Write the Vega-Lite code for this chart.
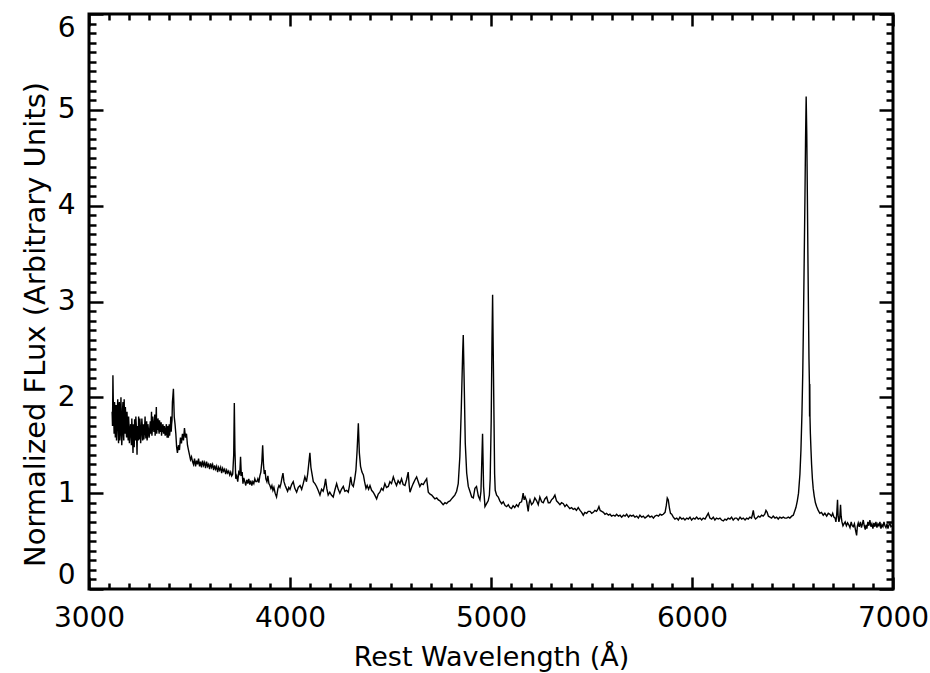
{
  "$schema": "https://vega.github.io/schema/vega-lite/v6.json",
  "width": 804,
  "height": 575,
  "autosize": {"type": "none"},
  "padding": {"left": 89, "top": 14, "right": 37, "bottom": 84},
  "background": "white",
  "config": {
    "view": {"stroke": "black", "strokeWidth": 3},
    "axis": {
      "grid": false, "domain": false, "tickColor": "black", "tickWidth": 2.5,
      "labelColor": "black", "titleColor": "black",
      "labelFont": "DejaVu Sans", "titleFont": "DejaVu Sans",
      "labelFontSize": 28, "titleFontSize": 27, "titleFontWeight": "normal",
      "labelOverlap": false, "labelBound": false
    }
  },
  "data": {"values": [
    {"w":3115,"f":1.85},{"w":3117,"f":1.70},{"w":3119,"f":2.23},{"w":3121,"f":1.95},{"w":3123,"f":1.80},{"w":3125,"f":1.62},{"w":3127,"f":1.95},{"w":3129,"f":1.88},{"w":3131,"f":1.58},{"w":3133,"f":1.75},{"w":3135,"f":1.92},{"w":3137,"f":1.55},{"w":3139,"f":1.72},{"w":3141,"f":1.85},{"w":3143,"f":1.98},{"w":3145,"f":1.68},{"w":3147,"f":1.52},{"w":3149,"f":1.90},{"w":3151,"f":1.95},{"w":3153,"f":1.55},{"w":3155,"f":1.62},{"w":3157,"f":1.82},{"w":3159,"f":2.00},{"w":3161,"f":1.65},{"w":3163,"f":1.50},{"w":3165,"f":1.60},{"w":3167,"f":1.88},{"w":3169,"f":1.95},{"w":3171,"f":1.68},{"w":3173,"f":1.55},{"w":3175,"f":1.98},{"w":3177,"f":1.70},{"w":3179,"f":1.62},{"w":3181,"f":1.90},{"w":3183,"f":1.80},{"w":3185,"f":1.65},{"w":3187,"f":1.58},{"w":3189,"f":1.85},{"w":3191,"f":1.74},{"w":3193,"f":1.62},{"w":3195,"f":1.55},{"w":3197,"f":1.80},{"w":3199,"f":1.70},{"w":3201,"f":1.52},{"w":3203,"f":1.60},{"w":3205,"f":1.66},{"w":3207,"f":1.72},{"w":3209,"f":1.62},{"w":3211,"f":1.50},{"w":3213,"f":1.78},{"w":3215,"f":1.66},{"w":3217,"f":1.55},{"w":3219,"f":1.42},{"w":3221,"f":1.72},{"w":3223,"f":1.60},{"w":3225,"f":1.48},{"w":3227,"f":1.77},{"w":3229,"f":1.62},{"w":3231,"f":1.55},{"w":3233,"f":1.80},{"w":3235,"f":1.72},{"w":3237,"f":1.58},{"w":3239,"f":1.40},{"w":3241,"f":1.70},{"w":3243,"f":1.62},{"w":3245,"f":1.55},{"w":3247,"f":1.80},{"w":3249,"f":1.68},{"w":3251,"f":1.56},{"w":3253,"f":1.78},{"w":3255,"f":1.70},{"w":3257,"f":1.52},{"w":3259,"f":1.60},{"w":3261,"f":1.66},{"w":3263,"f":1.78},{"w":3265,"f":1.70},{"w":3267,"f":1.55},{"w":3269,"f":1.62},{"w":3271,"f":1.72},{"w":3273,"f":1.56},{"w":3275,"f":1.62},{"w":3277,"f":1.70},{"w":3279,"f":1.80},{"w":3281,"f":1.64},{"w":3283,"f":1.57},{"w":3285,"f":1.68},{"w":3287,"f":1.75},{"w":3289,"f":1.55},{"w":3291,"f":1.60},{"w":3293,"f":1.72},{"w":3295,"f":1.68},{"w":3297,"f":1.64},{"w":3299,"f":1.58},{"w":3301,"f":1.62},{"w":3303,"f":1.70},{"w":3305,"f":1.75},{"w":3307,"f":1.62},{"w":3309,"f":1.68},{"w":3311,"f":1.85},{"w":3313,"f":1.60},{"w":3315,"f":1.66},{"w":3317,"f":1.80},{"w":3319,"f":1.75},{"w":3321,"f":1.70},{"w":3323,"f":1.64},{"w":3325,"f":1.68},{"w":3327,"f":1.82},{"w":3329,"f":1.60},{"w":3331,"f":1.68},{"w":3333,"f":1.76},{"w":3335,"f":1.90},{"w":3337,"f":1.62},{"w":3339,"f":1.70},{"w":3341,"f":1.66},{"w":3343,"f":1.78},{"w":3345,"f":1.74},{"w":3347,"f":1.66},{"w":3349,"f":1.62},{"w":3351,"f":1.76},{"w":3353,"f":1.70},{"w":3355,"f":1.64},{"w":3357,"f":1.68},{"w":3359,"f":1.74},{"w":3361,"f":1.60},{"w":3363,"f":1.67},{"w":3365,"f":1.64},{"w":3367,"f":1.72},{"w":3369,"f":1.70},{"w":3371,"f":1.62},{"w":3373,"f":1.66},{"w":3375,"f":1.70},{"w":3377,"f":1.64},{"w":3379,"f":1.60},{"w":3381,"f":1.62},{"w":3383,"f":1.68},{"w":3385,"f":1.72},{"w":3387,"f":1.62},{"w":3389,"f":1.58},{"w":3391,"f":1.66},{"w":3393,"f":1.70},{"w":3395,"f":1.58},{"w":3397,"f":1.64},{"w":3399,"f":1.72},{"w":3401,"f":1.60},{"w":3403,"f":1.65},{"w":3405,"f":1.70},{"w":3407,"f":1.80},{"w":3409,"f":1.64},{"w":3411,"f":1.72},{"w":3413,"f":1.76},{"w":3415,"f":1.95},{"w":3417,"f":2.00},{"w":3420,"f":2.09},{"w":3424,"f":1.80},{"w":3428,"f":1.72},{"w":3432,"f":1.62},{"w":3436,"f":1.48},{"w":3440,"f":1.42},{"w":3445,"f":1.50},{"w":3450,"f":1.45},{"w":3455,"f":1.58},{"w":3460,"f":1.52},{"w":3465,"f":1.62},{"w":3470,"f":1.55},{"w":3475,"f":1.68},{"w":3480,"f":1.58},{"w":3485,"f":1.62},{"w":3490,"f":1.50},{"w":3495,"f":1.45},{"w":3500,"f":1.40},{"w":3505,"f":1.35},{"w":3510,"f":1.38},{"w":3515,"f":1.33},{"w":3520,"f":1.30},
    {"w":3525,"f":1.36},{"w":3530,"f":1.28},{"w":3535,"f":1.34},{"w":3540,"f":1.30},{"w":3545,"f":1.36},{"w":3550,"f":1.28},{"w":3555,"f":1.33},{"w":3560,"f":1.27},{"w":3565,"f":1.34},{"w":3570,"f":1.29},{"w":3575,"f":1.32},{"w":3580,"f":1.26},{"w":3585,"f":1.33},{"w":3590,"f":1.28},{"w":3595,"f":1.30},{"w":3600,"f":1.25},{"w":3605,"f":1.31},{"w":3610,"f":1.27},{"w":3615,"f":1.30},{"w":3620,"f":1.24},{"w":3625,"f":1.29},{"w":3630,"f":1.25},{"w":3635,"f":1.28},{"w":3640,"f":1.22},{"w":3645,"f":1.27},{"w":3650,"f":1.24},{"w":3655,"f":1.27},{"w":3660,"f":1.21},{"w":3665,"f":1.26},{"w":3670,"f":1.23},{"w":3675,"f":1.25},{"w":3680,"f":1.20},{"w":3685,"f":1.24},{"w":3690,"f":1.21},{"w":3695,"f":1.23},{"w":3700,"f":1.19},{"w":3705,"f":1.22},{"w":3710,"f":1.18},{"w":3715,"f":1.20},{"w":3720,"f":1.40},{"w":3723,"f":1.94},{"w":3726,"f":1.45},{"w":3730,"f":1.15},{"w":3735,"f":1.18},{"w":3740,"f":1.12},{"w":3745,"f":1.22},{"w":3750,"f":1.20},{"w":3754,"f":1.38},{"w":3758,"f":1.18},{"w":3762,"f":1.22},{"w":3766,"f":1.10},{"w":3770,"f":1.16},{"w":3775,"f":1.12},{"w":3780,"f":1.08},{"w":3785,"f":1.14},{"w":3790,"f":1.10},{"w":3795,"f":1.15},{"w":3800,"f":1.09},{"w":3805,"f":1.13},{"w":3810,"f":1.08},{"w":3815,"f":1.12},{"w":3820,"f":1.10},{"w":3825,"f":1.15},{"w":3830,"f":1.12},{"w":3835,"f":1.12},{"w":3840,"f":1.15},{"w":3845,"f":1.11},{"w":3850,"f":1.18},{"w":3855,"f":1.22},{"w":3860,"f":1.33},{"w":3864,"f":1.50},{"w":3868,"f":1.30},{"w":3872,"f":1.20},{"w":3876,"f":1.24},{"w":3880,"f":1.15},{"w":3885,"f":1.12},{"w":3890,"f":1.18},{"w":3895,"f":1.10},{"w":3900,"f":1.08},{"w":3905,"f":1.05},{"w":3910,"f":1.08},{"w":3915,"f":1.03},{"w":3920,"f":1.06},{"w":3926,"f":1.00},{"w":3933,"f":0.96},{"w":3940,"f":1.05},{"w":3945,"f":1.08},{"w":3950,"f":1.06},{"w":3955,"f":1.10},{"w":3960,"f":1.16},{"w":3965,"f":1.21},{"w":3970,"f":1.12},{"w":3976,"f":1.08},{"w":3982,"f":1.05},{"w":3988,"f":1.02},{"w":3994,"f":1.06},
    {"w":4000,"f":1.04},{"w":4008,"f":1.09},{"w":4016,"f":1.12},{"w":4024,"f":1.05},{"w":4033,"f":1.01},{"w":4041,"f":1.06},{"w":4050,"f":1.08},{"w":4058,"f":1.04},{"w":4066,"f":1.10},{"w":4074,"f":1.17},{"w":4082,"f":1.12},{"w":4088,"f":1.20},{"w":4093,"f":1.30},{"w":4099,"f":1.42},{"w":4104,"f":1.27},{"w":4108,"f":1.22},{"w":4116,"f":1.12},{"w":4124,"f":1.10},{"w":4132,"f":1.07},{"w":4140,"f":1.03},{"w":4149,"f":0.98},{"w":4157,"f":1.04},{"w":4165,"f":1.02},{"w":4172,"f":1.08},{"w":4177,"f":1.15},{"w":4183,"f":1.05},{"w":4190,"f":0.98},{"w":4198,"f":1.01},{"w":4206,"f":0.98},{"w":4215,"f":0.96},{"w":4223,"f":1.03},{"w":4232,"f":1.10},{"w":4240,"f":1.04},{"w":4248,"f":1.00},{"w":4256,"f":1.04},{"w":4265,"f":1.07},{"w":4273,"f":1.02},{"w":4282,"f":1.03},{"w":4290,"f":1.01},{"w":4296,"f":1.08},{"w":4302,"f":1.17},{"w":4308,"f":1.09},{"w":4315,"f":1.07},{"w":4322,"f":1.15},{"w":4328,"f":1.24},{"w":4334,"f":1.45},{"w":4340,"f":1.73},{"w":4345,"f":1.42},{"w":4351,"f":1.28},{"w":4358,"f":1.22},{"w":4365,"f":1.19},{"w":4371,"f":1.12},{"w":4378,"f":1.05},{"w":4384,"f":1.08},{"w":4391,"f":1.04},{"w":4398,"f":1.08},{"w":4406,"f":1.03},{"w":4414,"f":1.01},{"w":4422,"f":0.98},{"w":4431,"f":0.94},{"w":4439,"f":0.99},{"w":4447,"f":1.01},{"w":4455,"f":1.05},{"w":4463,"f":1.03},{"w":4472,"f":1.10},{"w":4480,"f":1.06},{"w":4489,"f":1.07},{"w":4497,"f":1.12},{"w":4505,"f":1.10},{"w":4514,"f":1.17},{"w":4522,"f":1.12},{"w":4530,"f":1.08},{"w":4538,"f":1.13},{"w":4547,"f":1.10},{"w":4555,"f":1.15},{"w":4563,"f":1.09},{"w":4572,"f":1.08},{"w":4580,"f":1.14},{"w":4588,"f":1.22},{"w":4593,"f":1.08},{"w":4597,"f":1.01},{"w":4605,"f":1.06},{"w":4613,"f":1.10},{"w":4622,"f":1.14},{"w":4630,"f":1.17},{"w":4638,"f":1.12},{"w":4646,"f":1.07},{"w":4654,"f":1.10},{"w":4663,"f":1.09},{"w":4671,"f":1.12},{"w":4680,"f":1.15},{"w":4688,"f":1.01},{"w":4697,"f":0.99},{"w":4705,"f":0.98},{"w":4713,"f":0.96},{"w":4721,"f":0.94},{"w":4730,"f":0.95},{"w":4738,"f":0.93},{"w":4746,"f":0.92},{"w":4754,"f":0.90},{"w":4762,"f":0.88},{"w":4771,"f":0.90},{"w":4779,"f":0.89},{"w":4787,"f":0.91},{"w":4796,"f":0.92},{"w":4804,"f":0.94},{"w":4812,"f":0.96},{"w":4820,"f":0.98},{"w":4829,"f":1.02},{"w":4837,"f":1.10},{"w":4845,"f":1.38},{"w":4852,"f":1.87},{"w":4859,"f":2.46},{"w":4862,"f":2.65},{"w":4867,"f":2.11},{"w":4872,"f":1.52},{"w":4879,"f":1.21},{"w":4887,"f":1.07},{"w":4895,"f":1.02},{"w":4904,"f":0.96},{"w":4912,"f":0.95},{"w":4920,"f":1.05},{"w":4928,"f":1.07},{"w":4937,"f":0.97},{"w":4945,"f":0.93},{"w":4950,"f":1.02},{"w":4953,"f":1.24},{"w":4958,"f":1.62},{"w":4963,"f":1.07},{"w":4970,"f":0.86},{"w":4978,"f":0.89},{"w":4986,"f":0.92},{"w":4992,"f":0.98},{"w":4996,"f":1.15},{"w":5001,"f":1.76},{"w":5005,"f":2.60},{"w":5008,"f":3.07},{"w":5011,"f":2.50},{"w":5015,"f":1.76},{"w":5018,"f":1.20},{"w":5021,"f":1.03},{"w":5028,"f":0.98},{"w":5036,"f":0.96},{"w":5044,"f":0.92},{"w":5053,"f":0.89},{"w":5061,"f":0.91},{"w":5070,"f":0.87},{"w":5078,"f":0.86},{"w":5086,"f":0.88},{"w":5094,"f":0.85},{"w":5102,"f":0.84},{"w":5110,"f":0.87},{"w":5118,"f":0.85},{"w":5127,"f":0.88},{"w":5135,"f":0.86},{"w":5143,"f":0.90},{"w":5152,"f":0.91},{"w":5156,"f":0.95},{"w":5160,"f":1.00},{"w":5165,"f":0.93},{"w":5170,"f":0.96},{"w":5177,"f":0.92},{"w":5185,"f":0.81},{"w":5190,"f":0.90},{"w":5194,"f":0.93},{"w":5202,"f":0.88},{"w":5210,"f":0.90},{"w":5218,"f":0.95},{"w":5227,"f":0.92},{"w":5235,"f":0.88},{"w":5243,"f":0.96},{"w":5252,"f":0.91},{"w":5260,"f":0.90},{"w":5268,"f":0.94},{"w":5277,"f":0.96},{"w":5285,"f":0.90},{"w":5293,"f":0.90},{"w":5301,"f":0.93},{"w":5310,"f":0.95},{"w":5318,"f":0.98},{"w":5326,"f":0.92},{"w":5335,"f":0.90},{"w":5343,"f":0.88},{"w":5351,"f":0.90},{"w":5360,"f":0.89},{"w":5368,"f":0.86},{"w":5376,"f":0.88},{"w":5384,"f":0.86},{"w":5392,"f":0.84},{"w":5401,"f":0.85},{"w":5409,"f":0.83},{"w":5417,"f":0.84},{"w":5425,"f":0.82},{"w":5434,"f":0.85},{"w":5443,"f":0.82},{"w":5451,"f":0.80},{"w":5459,"f":0.77},{"w":5467,"f":0.80},{"w":5476,"f":0.79},{"w":5484,"f":0.81},{"w":5493,"f":0.81},{"w":5501,"f":0.79},{"w":5509,"f":0.80},{"w":5517,"f":0.82},{"w":5525,"f":0.81},{"w":5531,"f":0.83},{"w":5537,"f":0.86},{"w":5543,"f":0.82},{"w":5551,"f":0.81},{"w":5559,"f":0.80},{"w":5567,"f":0.78},{"w":5575,"f":0.79},{"w":5584,"f":0.77},{"w":5592,"f":0.78},{"w":5600,"f":0.76},{"w":5609,"f":0.77},{"w":5617,"f":0.76},{"w":5625,"f":0.78},{"w":5634,"f":0.76},{"w":5642,"f":0.77},{"w":5650,"f":0.75},{"w":5659,"f":0.77},{"w":5667,"f":0.76},{"w":5675,"f":0.78},{"w":5684,"f":0.75},{"w":5692,"f":0.77},{"w":5700,"f":0.76},{"w":5708,"f":0.77},{"w":5716,"f":0.75},{"w":5725,"f":0.76},{"w":5733,"f":0.74},{"w":5741,"f":0.77},{"w":5750,"f":0.75},{"w":5758,"f":0.76},{"w":5766,"f":0.74},{"w":5775,"f":0.755},{"w":5783,"f":0.77},{"w":5791,"f":0.75},{"w":5800,"f":0.76},{"w":5808,"f":0.74},{"w":5816,"f":0.76},{"w":5825,"f":0.77},{"w":5833,"f":0.76},{"w":5841,"f":0.78},{"w":5849,"f":0.77},{"w":5857,"f":0.78},{"w":5866,"f":0.80},{"w":5872,"f":0.87},{"w":5877,"f":0.95},{"w":5882,"f":0.93},{"w":5888,"f":0.84},{"w":5893,"f":0.79},{"w":5899,"f":0.78},{"w":5907,"f":0.75},{"w":5915,"f":0.73},{"w":5924,"f":0.74},{"w":5932,"f":0.72},{"w":5940,"f":0.75},{"w":5949,"f":0.73},{"w":5957,"f":0.74},{"w":5965,"f":0.72},{"w":5974,"f":0.74},{"w":5982,"f":0.73},{"w":5990,"f":0.75},{"w":5998,"f":0.72},{"w":6007,"f":0.74},{"w":6015,"f":0.73},{"w":6023,"f":0.75},{"w":6031,"f":0.73},{"w":6040,"f":0.74},{"w":6048,"f":0.72},{"w":6056,"f":0.74},{"w":6065,"f":0.73},{"w":6073,"f":0.76},{"w":6081,"f":0.79},{"w":6089,"f":0.74},{"w":6098,"f":0.73},{"w":6106,"f":0.75},{"w":6114,"f":0.72},{"w":6122,"f":0.74},{"w":6131,"f":0.73},{"w":6139,"f":0.74},{"w":6147,"f":0.72},{"w":6156,"f":0.71},{"w":6164,"f":0.73},{"w":6172,"f":0.72},{"w":6180,"f":0.74},{"w":6189,"f":0.73},{"w":6197,"f":0.75},{"w":6205,"f":0.72},{"w":6214,"f":0.74},{"w":6222,"f":0.74},{"w":6230,"f":0.72},{"w":6239,"f":0.75},{"w":6247,"f":0.73},{"w":6255,"f":0.74},{"w":6264,"f":0.72},{"w":6272,"f":0.74},{"w":6280,"f":0.73},{"w":6288,"f":0.75},{"w":6296,"f":0.74},{"w":6301,"f":0.78},{"w":6305,"f":0.82},{"w":6310,"f":0.75},{"w":6316,"f":0.73},{"w":6322,"f":0.74},{"w":6330,"f":0.76},{"w":6338,"f":0.75},{"w":6346,"f":0.77},{"w":6354,"f":0.76},{"w":6362,"f":0.78},{"w":6368,"f":0.82},{"w":6374,"f":0.80},{"w":6380,"f":0.76},{"w":6388,"f":0.75},{"w":6396,"f":0.74},{"w":6404,"f":0.76},{"w":6413,"f":0.74},{"w":6421,"f":0.75},{"w":6429,"f":0.73},{"w":6437,"f":0.75},{"w":6446,"f":0.74},{"w":6454,"f":0.75},{"w":6462,"f":0.74},{"w":6471,"f":0.74},{"w":6479,"f":0.75},{"w":6487,"f":0.74},{"w":6496,"f":0.76},{"w":6504,"f":0.77},{"w":6512,"f":0.82},{"w":6517,"f":0.85},{"w":6524,"f":0.92},{"w":6530,"f":1.00},{"w":6537,"f":1.20},{"w":6542,"f":1.45},{"w":6547,"f":1.83},{"w":6551,"f":2.25},{"w":6554,"f":2.70},{"w":6558,"f":3.40},{"w":6562,"f":4.10},{"w":6565,"f":4.70},{"w":6568,"f":5.14},{"w":6571,"f":4.75},{"w":6574,"f":4.10},{"w":6577,"f":3.40},{"w":6580,"f":2.80},{"w":6582,"f":2.40},{"w":6584,"f":2.16},{"w":6585,"f":1.80},{"w":6586,"f":2.14},{"w":6587,"f":1.79},{"w":6589,"f":1.62},{"w":6592,"f":1.45},{"w":6595,"f":1.30},{"w":6599,"f":1.15},{"w":6603,"f":1.05},{"w":6608,"f":0.97},{"w":6614,"f":0.90},{"w":6620,"f":0.86},{"w":6628,"f":0.82},{"w":6636,"f":0.79},{"w":6644,"f":0.80},{"w":6653,"f":0.77},{"w":6661,"f":0.79},{"w":6670,"f":0.76},{"w":6678,"f":0.79},{"w":6686,"f":0.78},{"w":6694,"f":0.76},{"w":6700,"f":0.79},{"w":6706,"f":0.75},{"w":6712,"f":0.74},{"w":6716,"f":0.70},{"w":6720,"f":0.78},{"w":6724,"f":0.93},{"w":6727,"f":0.76},{"w":6731,"f":0.70},{"w":6735,"f":0.74},{"w":6739,"f":0.88},{"w":6742,"f":0.76},{"w":6746,"f":0.70},{"w":6751,"f":0.66},{"w":6756,"f":0.68},{"w":6762,"f":0.70},{"w":6768,"f":0.66},{"w":6774,"f":0.69},{"w":6780,"f":0.67},{"w":6786,"f":0.64},{"w":6792,"f":0.70},{"w":6797,"f":0.66},{"w":6802,"f":0.65},{"w":6808,"f":0.68},{"w":6813,"f":0.62},{"w":6819,"f":0.56},{"w":6823,"f":0.66},{"w":6827,"f":0.69},{"w":6832,"f":0.65},{"w":6838,"f":0.70},{"w":6843,"f":0.64},{"w":6848,"f":0.68},{"w":6852,"f":0.72},{"w":6857,"f":0.66},{"w":6862,"f":0.62},{"w":6866,"f":0.67},{"w":6870,"f":0.63},{"w":6875,"f":0.70},{"w":6880,"f":0.66},{"w":6885,"f":0.72},{"w":6890,"f":0.65},{"w":6895,"f":0.68},{"w":6900,"f":0.63},{"w":6905,"f":0.69},{"w":6910,"f":0.65},{"w":6915,"f":0.70},{"w":6920,"f":0.64},{"w":6925,"f":0.68},{"w":6930,"f":0.66},{"w":6935,"f":0.70},{"w":6940,"f":0.63},{"w":6945,"f":0.67},{"w":6950,"f":0.65},{"w":6955,"f":0.70},{"w":6960,"f":0.66},{"w":6965,"f":0.64},{"w":6970,"f":0.68},{"w":6975,"f":0.63},{"w":6980,"f":0.67},{"w":6985,"f":0.68},{"w":6990,"f":0.65},{"w":6995,"f":0.66}
  ]},
  "resolve": {"axis": {"x": "independent", "y": "independent"}},
  "layer": [
    {
      "mark": {"type": "line", "color": "black", "strokeWidth": 1.4},
      "encoding": {
        "x": {"field": "w", "type": "quantitative", "scale": {"domain": [3000, 7000], "nice": false, "zero": false},
          "axis": {"orient": "bottom", "values": [3000, 4000, 5000, 6000, 7000], "format": "d", "tickSize": -12, "labelPadding": 27, "labelFlush": false,
            "title": "Rest Wavelength (Å)", "titleY": 68, "titleBaseline": "middle"}},
        "y": {"field": "f", "type": "quantitative", "scale": {"domain": [0, 6], "nice": false},
          "axis": {"orient": "left", "values": [0, 1, 2, 3, 4, 5, 6], "format": "d", "tickSize": -14, "labelPadding": 28, "labelFlush": true,
            "title": "Normalized FLux (Arbitrary Units)", "titleFontSize": 29, "titleX": -54, "titleY": 310, "titleBaseline": "middle", "titleAlign": "center", "titleAngle": -90}}
      }
    },
    {
      "mark": {"type": "line", "opacity": 0},
      "encoding": {
        "x": {"field": "w", "type": "quantitative", "scale": {"domain": [3000, 7000], "nice": false, "zero": false},
          "axis": {"orient": "bottom", "values": [3100,3200,3300,3400,3500,3600,3700,3800,3900,4100,4200,4300,4400,4500,4600,4700,4800,4900,5100,5200,5300,5400,5500,5600,5700,5800,5900,6100,6200,6300,6400,6500,6600,6700,6800,6900], "tickSize": -6, "labels": false, "title": null}},
        "y": {"field": "f", "type": "quantitative", "scale": {"domain": [0, 6], "nice": false},
          "axis": {"orient": "left", "values": [0.1,0.2,0.3,0.4,0.5,0.6,0.7,0.8,0.9,1.1,1.2,1.3,1.4,1.5,1.6,1.7,1.8,1.9,2.1,2.2,2.3,2.4,2.5,2.6,2.7,2.8,2.9,3.1,3.2,3.3,3.4,3.5,3.6,3.7,3.8,3.9,4.1,4.2,4.3,4.4,4.5,4.6,4.7,4.8,4.9,5.1,5.2,5.3,5.4,5.5,5.6,5.7,5.8,5.9], "tickSize": -7, "labels": false, "title": null}}
      }
    },
    {
      "mark": {"type": "line", "opacity": 0},
      "encoding": {
        "x": {"field": "w", "type": "quantitative", "scale": {"domain": [3000, 7000], "nice": false, "zero": false},
          "axis": {"orient": "top", "values": [3000, 4000, 5000, 6000, 7000], "tickSize": -12, "labels": false, "title": null}},
        "y": {"field": "f", "type": "quantitative", "scale": {"domain": [0, 6], "nice": false},
          "axis": {"orient": "right", "values": [0, 1, 2, 3, 4, 5, 6], "tickSize": -14, "labels": false, "title": null}}
      }
    },
    {
      "mark": {"type": "line", "opacity": 0},
      "encoding": {
        "x": {"field": "w", "type": "quantitative", "scale": {"domain": [3000, 7000], "nice": false, "zero": false},
          "axis": {"orient": "top", "values": [3100,3200,3300,3400,3500,3600,3700,3800,3900,4100,4200,4300,4400,4500,4600,4700,4800,4900,5100,5200,5300,5400,5500,5600,5700,5800,5900,6100,6200,6300,6400,6500,6600,6700,6800,6900], "tickSize": -6, "labels": false, "title": null}},
        "y": {"field": "f", "type": "quantitative", "scale": {"domain": [0, 6], "nice": false},
          "axis": {"orient": "right", "values": [0.1,0.2,0.3,0.4,0.5,0.6,0.7,0.8,0.9,1.1,1.2,1.3,1.4,1.5,1.6,1.7,1.8,1.9,2.1,2.2,2.3,2.4,2.5,2.6,2.7,2.8,2.9,3.1,3.2,3.3,3.4,3.5,3.6,3.7,3.8,3.9,4.1,4.2,4.3,4.4,4.5,4.6,4.7,4.8,4.9,5.1,5.2,5.3,5.4,5.5,5.6,5.7,5.8,5.9], "tickSize": -7, "labels": false, "title": null}}
      }
    }
  ]
}
